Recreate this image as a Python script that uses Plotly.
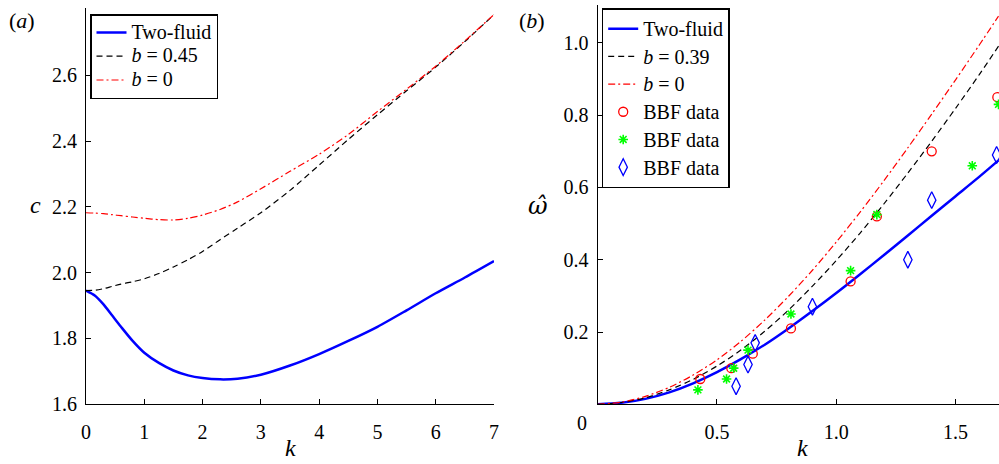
import plotly.graph_objects as go

# ---- panel (a): phase speed c versus wavenumber k ----
k_a = [0, 0.15, 0.3, 0.45, 0.6, 0.8, 1.0, 1.25, 1.5, 1.75, 2.0, 2.3, 2.6,
       3.0, 3.5, 4.0, 4.5, 5.0, 5.5, 6.0, 6.5, 7.0]
c_two_fluid = [1.945, 1.930, 1.903, 1.869, 1.835, 1.792, 1.756, 1.725, 1.702,
               1.687, 1.679, 1.675, 1.677, 1.689, 1.717, 1.752, 1.792, 1.835,
               1.885, 1.937, 1.985, 2.035]
c_b045 = [1.945, 1.946, 1.951, 1.958, 1.965, 1.972, 1.981, 1.997, 2.017, 2.039,
          2.064, 2.100, 2.135, 2.182, 2.250, 2.327, 2.405, 2.480, 2.553, 2.625,
          2.703, 2.785]
c_b0 = [2.182, 2.181, 2.179, 2.176, 2.173, 2.169, 2.165, 2.161, 2.160, 2.165,
        2.175, 2.192, 2.215, 2.255, 2.308, 2.360, 2.420, 2.490, 2.558, 2.628,
        2.705, 2.785]
a_xticks = [0, 1, 2, 3, 4, 5, 6, 7]
a_yticks = [1.6, 1.8, 2.0, 2.2, 2.4, 2.6]

# ---- panel (b): frequency omega-hat versus wavenumber k ----
k_b = [0, 0.1, 0.2, 0.3, 0.4, 0.5, 0.6, 0.7, 0.8, 0.9, 1.0, 1.1, 1.2, 1.3,
       1.4, 1.5, 1.6, 1.68]
w_two_fluid = [0, 0.004, 0.015, 0.033, 0.058, 0.089, 0.125, 0.165, 0.210,
               0.258, 0.308, 0.360, 0.413, 0.467, 0.522, 0.576, 0.630, 0.675]
w_b039 = [0, 0.005, 0.018, 0.040, 0.069, 0.106, 0.150, 0.202, 0.261, 0.327,
          0.398, 0.474, 0.555, 0.640, 0.728, 0.819, 0.913, 0.991]
w_b0 = [0, 0.006, 0.022, 0.047, 0.081, 0.123, 0.174, 0.233, 0.299, 0.371,
        0.449, 0.532, 0.619, 0.710, 0.803, 0.898, 0.995, 1.074]

bbf1_k = [0.43, 0.56, 0.65, 0.81, 1.06, 1.17, 1.40, 1.675]
bbf1_w = [0.07, 0.10, 0.14, 0.21, 0.34, 0.52, 0.70, 0.85]
bbf2_k = [0.42, 0.54, 0.57, 0.63, 0.81, 1.06, 1.17, 1.57, 1.68]
bbf2_w = [0.04, 0.07, 0.10, 0.15, 0.25, 0.37, 0.525, 0.66, 0.83]
bbf3_k = [0.58, 0.63, 0.66, 0.90, 1.30, 1.40, 1.672]
bbf3_w = [0.05, 0.11, 0.17, 0.27, 0.40, 0.565, 0.69]
b_xticks = [0.5, 1.0, 1.5]
b_yticks = [0.2, 0.4, 0.6, 0.8, 1.0]

W, H = 999, 464
SERIF = "Liberation Serif"
BLUE, RED, GREEN = "#0000ff", "#ff0000", "#00ff00"


def big(s):
    return f'<span style="font-size:20px">{s}</span>'


fig = go.Figure()

# panel (a) curves
fig.add_trace(go.Scatter(x=k_a, y=c_two_fluid, mode="lines", name=big("Two-fluid"),
                         line=dict(color=BLUE, width=2.5, shape="spline", smoothing=0.8),
                         xaxis="x", yaxis="y", legend="legend"))
fig.add_trace(go.Scatter(x=k_a, y=c_b045, mode="lines", name=big("<i>b</i> = 0.45"),
                         line=dict(color="black", width=1.2, dash="6px,4px",
                                   shape="spline", smoothing=0.8),
                         xaxis="x", yaxis="y", legend="legend"))
fig.add_trace(go.Scatter(x=k_a, y=c_b0, mode="lines", name=big("<i>b</i> = 0"),
                         line=dict(color=RED, width=1.2, dash="7px,3px,2px,3px",
                                   shape="spline", smoothing=0.8),
                         xaxis="x", yaxis="y", legend="legend"))

# panel (b) curves and data
fig.add_trace(go.Scatter(x=k_b, y=w_two_fluid, mode="lines", name=big("Two-fluid"),
                         line=dict(color=BLUE, width=2.5, shape="spline", smoothing=0.8),
                         xaxis="x2", yaxis="y2", legend="legend2"))
fig.add_trace(go.Scatter(x=k_b, y=w_b039, mode="lines", name=big("<i>b</i> = 0.39"),
                         line=dict(color="black", width=1.2, dash="6px,4px",
                                   shape="spline", smoothing=0.8),
                         xaxis="x2", yaxis="y2", legend="legend2"))
fig.add_trace(go.Scatter(x=k_b, y=w_b0, mode="lines", name=big("<i>b</i> = 0"),
                         line=dict(color=RED, width=1.2, dash="7px,3px,2px,3px",
                                   shape="spline", smoothing=0.8),
                         xaxis="x2", yaxis="y2", legend="legend2"))
fig.add_trace(go.Scatter(x=bbf1_k, y=bbf1_w, mode="markers", name=big("BBF data"),
                         marker=dict(symbol="circle-open", size=9, color=RED,
                                     line=dict(width=1.3, color=RED)),
                         xaxis="x2", yaxis="y2", legend="legend2"))
fig.add_trace(go.Scatter(x=bbf2_k, y=bbf2_w, mode="markers", name=big("BBF data"),
                         marker=dict(symbol="asterisk-open", size=8, color=GREEN,
                                     line=dict(width=1.6, color=GREEN)),
                         xaxis="x2", yaxis="y2", legend="legend2"))
fig.add_trace(go.Scatter(x=bbf3_k, y=bbf3_w, mode="markers", name=big("BBF data"),
                         marker=dict(symbol="diamond-tall-open", size=12, color=BLUE,
                                     line=dict(width=1.3, color=BLUE)),
                         xaxis="x2", yaxis="y2", legend="legend2"))

tickfont = dict(family=SERIF, size=20, color="black")
axis_common = dict(showline=True, linecolor="black", linewidth=1.2, ticks="inside",
                   ticklen=5, tickwidth=1, tickcolor="black", showgrid=False,
                   zeroline=False, tickfont=tickfont, mirror=False, automargin=False)


def px_x(p):
    return p / W


def px_y(p):
    return 1 - p / H


fig.update_layout(
    width=W, height=H,
    autosize=False,
    margin=dict(l=0, r=0, t=0, b=0, pad=0),
    paper_bgcolor="white", plot_bgcolor="white",
    font=dict(family=SERIF, color="black"),
    xaxis=dict(domain=[px_x(86), px_x(494)], range=[0, 7], tickvals=a_xticks,
               ticktext=[str(v) for v in a_xticks], anchor="y",
               ticklabelstandoff=10, **axis_common),
    yaxis=dict(domain=[px_y(404), px_y(8)], range=[1.6, 2.805], tickvals=a_yticks,
               ticktext=[f"{v:.1f}" for v in a_yticks], anchor="x",
               ticklabelstandoff=4, **axis_common),
    xaxis2=dict(domain=[px_x(597.7), 1.0], range=[0, 1.682], tickvals=b_xticks,
                ticktext=[f"{v:.1f}" for v in b_xticks], anchor="y2",
                ticklabelstandoff=10, **axis_common),
    yaxis2=dict(domain=[px_y(404.3), px_y(5)], range=[0, 1.105], tickvals=b_yticks,
                ticktext=[f"{v:.1f}" for v in b_yticks], anchor="x2",
                ticklabelstandoff=4, **axis_common),
    legend=dict(x=px_x(90), y=px_y(14), xanchor="left", yanchor="top",
                bgcolor="white", bordercolor="black", borderwidth=1.5,
                font=dict(family=SERIF, size=16, color="black"),
                itemwidth=30, tracegroupgap=0),
    legend2=dict(x=px_x(601.7), y=px_y(8.3), xanchor="left", yanchor="top",
                 bgcolor="white", bordercolor="black", borderwidth=1.5,
                 font=dict(family=SERIF, size=19, color="black"),
                 itemwidth=30, tracegroupgap=0),
    showlegend=True,
)

ann = [
    dict(text="(<i>a</i>)", x=px_x(22), y=px_y(20), size=22, family=SERIF),
    dict(text="(<i>b</i>)", x=px_x(532), y=px_y(20), size=22, family=SERIF),
    dict(text="<i>c</i>", x=px_x(35), y=px_y(205), size=24, family=SERIF),
    dict(text="<i>ω\u0302</i>", x=px_x(538), y=px_y(206), size=24, family="DejaVu Serif"),
    dict(text="<i>k</i>", x=px_x(290), y=px_y(448), size=24, family=SERIF),
    dict(text="<i>k</i>", x=px_x(802), y=px_y(448), size=24, family=SERIF),
    dict(text="0", x=px_x(582), y=px_y(422.7), size=20, family=SERIF),
]
fig.update_layout(annotations=[
    dict(text=a["text"], x=a["x"], y=a["y"], xref="paper", yref="paper",
         xanchor="center", yanchor="middle", showarrow=False,
         font=dict(family=a["family"], size=a["size"], color="black"))
    for a in ann
])

# page without default body margins so the figure sits at the window origin
fig.write_html("out.html",
               post_script="document.body.style.margin='0';"
                           "document.body.style.overflow='hidden';")
